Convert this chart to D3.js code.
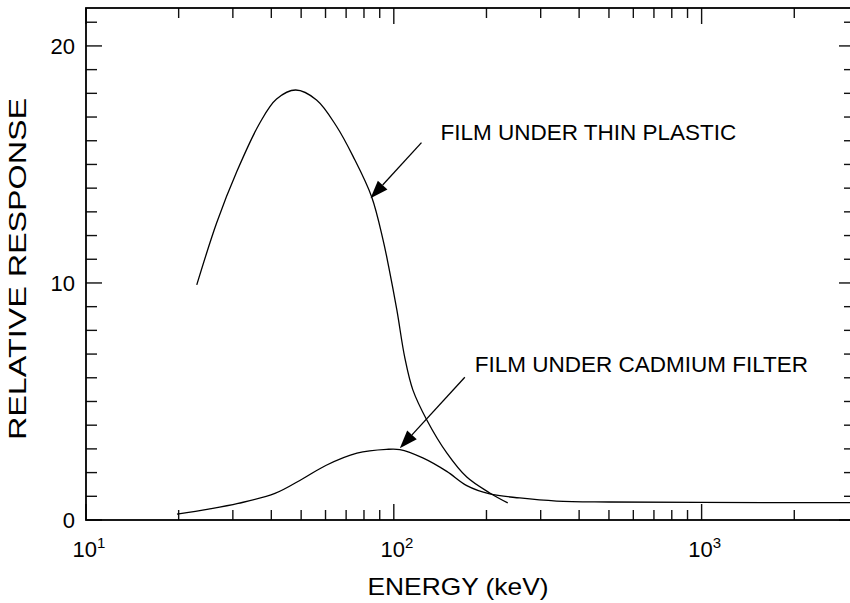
<!DOCTYPE html>
<html lang="en">
<head>
    <meta charset="UTF-8">
    <title>Relative Response vs Energy</title>
    <style>
        body {
            margin: 0;
            background-color: #fff;
        }
        .frame-line {
            stroke: #000;
            stroke-width: 1.8;
            fill: none;
        }
        .tick-line {
            stroke: #111;
            stroke-width: 1.4;
        }
        .curve {
            fill: none;
            stroke: #000;
            stroke-width: 1.3;
        }
        text {
            font-family: "Liberation Sans", Arial, sans-serif;
            fill: #000;
        }
    </style>
</head>
<body>
    <svg id="chart" width="850" height="603"></svg>

    <script src="https://cdnjs.cloudflare.com/ajax/libs/d3/7.8.5/d3.min.js"></script>
    <script>
        // Film under thin plastic
        var plasticEnergy = [22.9, 26.6, 30.9, 36.7, 41.6, 48.0, 56.1, 65.2, 73.8, 84.7, 92.3, 96.3, 102.3, 108.6, 115.3, 128.0, 148.6, 172.6, 205, 234.5];
        var plasticResponse = [9.92, 12.55, 14.70, 16.75, 17.76, 18.14, 17.72, 16.60, 15.33, 13.64, 11.81, 10.67, 8.86, 6.84, 5.49, 4.22, 2.83, 1.81, 1.14, 0.72];

        // Film under cadmium filter
        var cadmiumEnergy = [19.75, 25, 31.2, 41.1, 50.6, 60.1, 75.9, 94.7, 104.6, 124.2, 148.6, 172.6, 205, 256.5, 338, 500, 1000, 3150];
        var cadmiumResponse = [0.25, 0.46, 0.70, 1.12, 1.74, 2.30, 2.82, 2.98, 2.97, 2.62, 2.05, 1.45, 1.10, 0.93, 0.80, 0.76, 0.74, 0.73];

        // Axis ticks
        var xMajorTicks = [10, 100, 1000];
        var xMajorLabels = ['1', '2', '3'];
        var xMinorTicks = [20, 30, 40, 50, 60, 70, 80, 90, 200, 300, 400, 500, 600, 700, 800, 900, 2000];
        var yMajorTicks = [0, 10, 20];
        var yMinorTicks = [1, 2, 3, 4, 5, 6, 7, 8, 9, 11, 12, 13, 14, 15, 16, 17, 18, 19, 21];

        // Annotations: label position, arrow start and arrow tip (energy, response)
        var annotations = [
            { text: 'FILM UNDER THIN PLASTIC', lx: 141.8, ly: 16.03, x1: 123.0, y1: 15.92, x2: 84.0, y2: 13.57 },
            { text: 'FILM UNDER CADMIUM FILTER', lx: 183.2, ly: 6.23, x1: 170.1, y1: 6.02, x2: 104.6, y2: 3.03 }
        ];

        // plot box (right edge falls just outside the picture)
        var plotLeft = 86, plotRight = 855, plotTop = 8, plotBottom = 520;

        var svg = d3.select('#chart');

        var xScale = d3.scaleLog()
            .domain([10, 3150])
            .range([plotLeft, plotRight]);

        var yScale = d3.scaleLinear()
            .domain([0, 21.6])
            .range([plotBottom, plotTop]);

        // ticks on all four sides, pointing inward
        function drawXTicks(values, len) {
            var g = svg.append('g');
            values.forEach(function (v) {
                var x = xScale(v);
                g.append('line').attr('class', 'tick-line')
                    .attr('x1', x).attr('x2', x).attr('y1', plotBottom).attr('y2', plotBottom - len);
                g.append('line').attr('class', 'tick-line')
                    .attr('x1', x).attr('x2', x).attr('y1', plotTop).attr('y2', plotTop + len);
            });
        }
        drawXTicks(xMajorTicks, 16);
        drawXTicks(xMinorTicks, 10);

        function drawYTicks(values, len) {
            var g = svg.append('g');
            values.forEach(function (v) {
                var y = yScale(v);
                g.append('line').attr('class', 'tick-line')
                    .attr('x1', plotLeft).attr('x2', plotLeft + len).attr('y1', y).attr('y2', y);
                g.append('line').attr('class', 'tick-line')
                    .attr('x1', plotRight).attr('x2', plotRight - len).attr('y1', y).attr('y2', y);
            });
        }
        drawYTicks(yMajorTicks, 16);
        drawYTicks(yMinorTicks, 11);

        // frame
        svg.append('rect')
            .attr('class', 'frame-line')
            .attr('x', plotLeft)
            .attr('y', plotTop)
            .attr('width', plotRight - plotLeft)
            .attr('height', plotBottom - plotTop);

        // y tick labels
        svg.selectAll('.ylab')
            .data(yMajorTicks)
            .enter()
            .append('text')
            .attr('class', 'ylab')
            .attr('x', 75)
            .attr('y', d => yScale(d))
            .attr('dy', '0.36em')
            .attr('text-anchor', 'end')
            .style('font-size', '22px')
            .text(d => d);

        // x tick labels, 10 with superscript exponent
        var xlab = svg.selectAll('.xlab')
            .data(xMajorTicks)
            .enter()
            .append('text')
            .attr('class', 'xlab')
            .attr('x', d => xScale(d) + 3)
            .attr('y', 557)
            .attr('text-anchor', 'middle')
            .style('font-size', '22px');
        xlab.append('tspan').text('10');
        xlab.append('tspan')
            .attr('dy', -9)
            .style('font-size', '15px')
            .text((d, i) => xMajorLabels[i]);

        // axis titles
        svg.append('text')
            .attr('x', 458)
            .attr('y', 595)
            .attr('text-anchor', 'middle')
            .attr('textLength', 181)
            .attr('lengthAdjust', 'spacingAndGlyphs')
            .style('font-size', '24px')
            .text('ENERGY (keV)');

        svg.append('text')
            .attr('transform', 'translate(26,269) rotate(-90)')
            .attr('text-anchor', 'middle')
            .attr('textLength', 342)
            .attr('lengthAdjust', 'spacingAndGlyphs')
            .style('font-size', '24px')
            .text('RELATIVE RESPONSE');

        // curves
        var line = d3.line()
            .x(d => xScale(d[0]))
            .y(d => yScale(d[1]))
            .curve(d3.curveCatmullRom.alpha(0.5));

        var plastic = plasticEnergy.map((e, i) => [e, plasticResponse[i]]);
        var cadmium = cadmiumEnergy.map((e, i) => [e, cadmiumResponse[i]]);

        svg.append('path').attr('class', 'curve').attr('d', line(plastic));
        svg.append('path').attr('class', 'curve').attr('d', line(cadmium));

        // annotations with filled arrowheads
        annotations.forEach(function (a) {
            var x1 = xScale(a.x1), y1 = yScale(a.y1);
            var x2 = xScale(a.x2), y2 = yScale(a.y2);
            var ang = Math.atan2(y2 - y1, x2 - x1);
            var headLen = 18, headHalf = 6.5;
            var bx = x2 - headLen * Math.cos(ang), by = y2 - headLen * Math.sin(ang);

            svg.append('line')
                .attr('x1', x1).attr('y1', y1)
                .attr('x2', bx).attr('y2', by)
                .attr('stroke', '#000')
                .attr('stroke-width', 1.3);

            svg.append('path')
                .attr('d', 'M' + x2 + ',' + y2 +
                    'L' + (bx + headHalf * Math.sin(ang)) + ',' + (by - headHalf * Math.cos(ang)) +
                    'L' + (bx - headHalf * Math.sin(ang)) + ',' + (by + headHalf * Math.cos(ang)) + 'Z')
                .attr('fill', '#000');

            svg.append('text')
                .attr('x', xScale(a.lx))
                .attr('y', yScale(a.ly))
                .style('font-size', '22.5px')
                .text(a.text);
        });
    </script>
</body>
</html>
